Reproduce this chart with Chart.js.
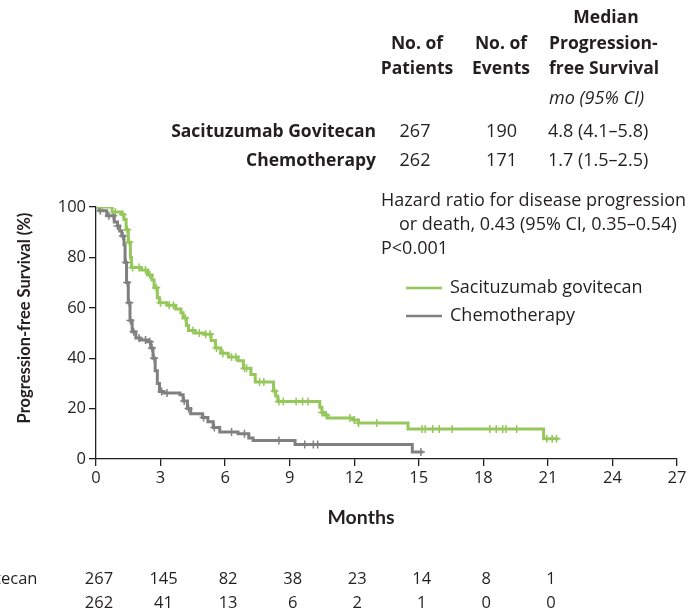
<!DOCTYPE html>
<html>
<head>
<meta charset="utf-8">
<title>Progression-free Survival</title>
<script src="https://cdn.jsdelivr.net/npm/chart.js@4.4.0/dist/chart.umd.js"></script>
<style>
  html, body { margin: 0; padding: 0; background: #fff; }
  #wrap { width: 690px; height: 615px; }
</style>
</head>
<body>
<div id="wrap"><canvas id="pfsChart" width="690" height="615"></canvas></div>
<script>
// Kaplan-Meier curves (months, % progression-free)
const sgTimes = [0, 0.75, 1.2, 1.3, 1.4, 1.5, 1.6, 1.65, 2.1, 2.4, 2.6, 2.7, 2.85, 2.95, 3.3, 3.7, 3.95, 4.05, 4.2, 4.3,
    4.6, 5.0, 5.35, 5.55, 5.8, 6.15, 6.6, 6.85, 7.2, 7.4, 8.25, 8.35, 8.45, 10.4, 10.5, 10.6, 10.75, 11.95, 12.2, 14.5, 20.8, 21.5];
const sgSurvival = [100, 98, 97, 95, 91, 86, 80, 76, 75, 73, 71, 68, 64, 62, 61, 59.5, 58, 56, 53, 51,
    50, 49.5, 47, 44, 42, 40.5, 39, 36, 33.5, 30.6, 27, 25, 22.8, 20.5, 18.5, 17.5, 16.3, 15.5, 14.3, 11.9, 8.0, 8.0];
const sgCensored = [0.3, 0.9, 1.25, 1.45, 1.55, 1.7, 2.0, 2.3, 2.5, 2.8, 3.0, 3.4, 3.6, 4.15, 4.5, 4.8, 5.1, 5.3, 5.6, 5.9,
    6.3, 6.5, 6.9, 7.0, 7.6, 7.8, 8.3, 8.5, 8.7, 9.3, 9.6, 9.85, 10.5, 10.7, 11.8, 12.0, 12.2, 13.05,
    15.15, 15.3, 15.65, 15.95, 16.55, 18.3, 18.6, 18.9, 19.05, 19.55, 20.95, 21.2, 21.4];

const chemoTimes = [0, 0.15, 0.5, 0.85, 1.0, 1.1, 1.2, 1.3, 1.35, 1.42, 1.5, 1.58, 1.68, 1.85, 2.05, 2.4, 2.55, 2.65, 2.75, 2.85,
    2.95, 3.15, 3.9, 4.05, 4.25, 4.4, 4.95, 5.2, 5.45, 5.75, 6.6, 7.1, 7.3, 9.25, 14.7, 15.2];
const chemoSurvival = [100, 98.5, 96.5, 94, 92.5, 90.5, 88.5, 85, 78, 70, 62, 55, 50.5, 48, 47.2, 46.5, 44, 40, 35, 30,
    26.8, 26.2, 25.5, 23, 20, 18, 16.5, 14.8, 12.5, 10.7, 10, 8.3, 7.3, 5.8, 2.8, 2.8];
const chemoCensored = [0.2, 0.6, 0.8, 1.0, 1.25, 1.4, 1.45, 1.55, 1.6, 1.75, 2.0, 2.3, 2.5, 2.6, 2.7, 3.05, 3.3,
    4.1, 4.3, 5.0, 5.5, 6.3, 6.9, 8.5, 9.7, 10.1, 10.3, 15.1];

// Number at risk
const riskMonths = [0, 3, 6, 9, 12, 15, 18, 21];
const sgAtRisk = [267, 145, 82, 38, 23, 14, 8, 1];
const chemoAtRisk = [262, 41, 13, 6, 2, 1, 0, 0];

// Summary table
const groupNames = ['Sacituzumab Govitecan', 'Chemotherapy'];
const legendNames = ['Sacituzumab govitecan', 'Chemotherapy'];
const patients = ['267', '262'];
const events = ['190', '171'];
const medianPfs = ['4.8 (4.1\u20135.8)', '1.7 (1.5\u20132.5)'];
const hazardText = ['Hazard ratio for disease progression', 'or death, 0.43 (95% CI, 0.35\u20130.54)', 'P<0.001'];

const GREEN = '#96c75a';
const GRAY = '#808080';
const INK = '#231f20';
const FONT = '"Open Sans", Lato, sans-serif';
const TITLE_FONT = 'Lato, "Open Sans", sans-serif';

// valor da curva num dado tempo (função escada)
function survivalAt(times, surv, t) {
    let s = surv[0];
    for (let i = 0; i < times.length; i++) {
        if (times[i] <= t) s = surv[i];
    }
    return s;
}

function toPoints(times, surv) {
    return times.map((t, i) => ({ x: t, y: surv[i] }));
}

function censorPoints(times, surv, marks) {
    return marks.map(t => ({ x: t, y: survivalAt(times, surv, t) }));
}

// textos, legenda e tabela de pacientes em risco
const annotations = {
    id: 'annotations',
    afterDraw(chart) {
        const ctx = chart.ctx;
        const xs = chart.scales.x;
        ctx.save();
        ctx.fillStyle = INK;
        ctx.textBaseline = 'middle';

        const text = (str, x, y, align, font) => {
            ctx.font = font;
            ctx.textAlign = align;
            ctx.fillText(str, x, y);
        };
        const bold = '700 17.5px ' + FONT;
        const normal = '18px ' + FONT;
        const small = '16.5px ' + FONT;

        // table header
        text('Median', 606, 18, 'center', bold);
        text('No. of', 417, 44, 'center', bold);
        text('Patients', 417, 69, 'center', bold);
        text('No. of', 501, 44, 'center', bold);
        text('Events', 501, 69, 'center', bold);
        text('Progression-', 549, 44, 'left', bold);
        text('free Survival', 549, 69, 'left', bold);
        text('mo (95% CI)', 549, 99, 'left', 'italic 18px ' + FONT);

        const rowY = [132, 161];
        groupNames.forEach((name, i) => {
            text(name, 376, rowY[i], 'right', bold);
            text(patients[i], 415, rowY[i], 'center', normal);
            text(events[i], 517, rowY[i], 'right', normal);
            text(medianPfs[i], 548, rowY[i], 'left', normal);
        });

        // hazard ratio
        text(hazardText[0], 381, 201, 'left', normal);
        text(hazardText[1], 399, 225, 'left', normal);
        text(hazardText[2], 381, 249, 'left', normal);

        // legend
        const legendY = [288, 316];
        [GREEN, GRAY].forEach((c, i) => {
            ctx.strokeStyle = c;
            ctx.lineWidth = 2.5;
            ctx.beginPath();
            ctx.moveTo(406, legendY[i]);
            ctx.lineTo(442, legendY[i]);
            ctx.stroke();
            text(legendNames[i], 450, legendY[i], 'left', normal);
        });

        // axis titles
        text('Months', 361, 518, 'center', 'bold 19.5px ' + TITLE_FONT);
        ctx.save();
        ctx.translate(25, 318);
        ctx.rotate(-Math.PI / 2);
        text('Progression-free Survival (%)', 0, 0, 'center', 'bold 16.5px ' + TITLE_FONT);
        ctx.restore();

        // number at risk (row labels run off the left edge)
        ctx.font = small;
        const labelEnd = ctx.measureText('ecan').width + 1;
        const labelStart = labelEnd - ctx.measureText(groupNames[0]).width;
        text(groupNames[0], labelStart, 579, 'left', small);
        text(groupNames[1], labelStart, 603, 'left', small);
        riskMonths.forEach((m, i) => {
            const px = xs.getPixelForValue(m) + 3;
            text(String(sgAtRisk[i]), px, 579, 'center', small);
            text(String(chemoAtRisk[i]), px, 603, 'center', small);
        });
        ctx.restore();
    }
};

new Chart(document.getElementById('pfsChart'), {
    type: 'line',
    data: {
        datasets: [
            {
                label: 'Sacituzumab govitecan',
                data: toPoints(sgTimes, sgSurvival),
                borderColor: GREEN,
                borderWidth: 3,
                stepped: 'before',
                pointRadius: 0,
                fill: false
            },
            {
                label: 'Chemotherapy',
                data: toPoints(chemoTimes, chemoSurvival),
                borderColor: GRAY,
                borderWidth: 3,
                stepped: 'before',
                pointRadius: 0,
                fill: false
            },
            {
                label: 'Sacituzumab govitecan censored',
                data: censorPoints(sgTimes, sgSurvival, sgCensored),
                showLine: false,
                pointStyle: 'cross',
                pointRadius: 4,
                pointBorderWidth: 1.5,
                borderColor: GREEN
            },
            {
                label: 'Chemotherapy censored',
                data: censorPoints(chemoTimes, chemoSurvival, chemoCensored),
                showLine: false,
                pointStyle: 'cross',
                pointRadius: 4,
                pointBorderWidth: 1.5,
                borderColor: GRAY
            }
        ]
    },
    options: {
        responsive: false,
        animation: false,
        layout: { padding: { top: 207, right: 13, left: 0, bottom: 0 } },
        plugins: {
            legend: { display: false },
            tooltip: { enabled: false }
        },
        scales: {
            x: {
                type: 'linear',
                min: 0,
                max: 27,
                ticks: { stepSize: 3, color: INK, padding: 2, maxRotation: 0, font: { family: FONT, size: 16.5 } },
                grid: { drawOnChartArea: false, tickLength: 7, color: INK, lineWidth: 1.3 },
                border: { color: INK, width: 1.3 },
                afterFit(scale) {
                    scale.height = 156;
                    scale.paddingLeft = 0;
                    scale.paddingRight = 0;
                }
            },
            y: {
                min: 0,
                max: 100,
                ticks: { stepSize: 20, color: INK, padding: 3, font: { family: FONT, size: 16.5 } },
                grid: { drawOnChartArea: false, tickLength: 7, color: INK, lineWidth: 1.3 },
                border: { color: INK, width: 1.3 },
                afterFit(scale) {
                    scale.width = 96;
                    scale.paddingTop = 0;
                    scale.paddingBottom = 0;
                }
            }
        }
    },
    plugins: [annotations]
});
</script>
</body>
</html>
